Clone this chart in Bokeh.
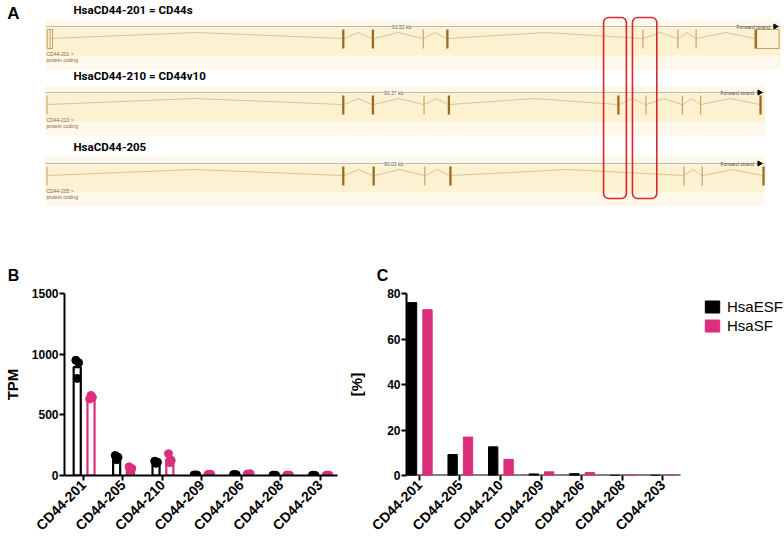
import math
from bokeh.plotting import figure
from bokeh.layouts import column, row
from bokeh.models import (Range1d, FixedTicker, Label, Legend, LegendItem,
                          BoxAnnotation)
from bokeh.embed import file_html
from bokeh.resources import INLINE
from bokeh.core.properties import value

# ---------------- Panel A data (read from the genome-browser view) ----------------
track_titles = ["HsaCD44-201 = CD44s", "HsaCD44-210 = CD44v10", "HsaCD44-205"]
track_ids = ["CD44-201", "CD44-210", "CD44-205"]
track_len_label = ["93.53 kb", "90.37 kb", "90.03 kb"]
track_view_end = [96.6, 94.5, 94.5]          # kb, right end of each view

# exon start (kb from transcript start) and exon length (kb)
t201_start = [0.4, 38.9, 42.8, 49.5, 52.6, 78.4, 83.0, 85.4, 93.2]
t201_len = [0.13, 0.3, 0.3, 0.15, 0.3, 0.15, 0.15, 0.15, 0.3]
t210_start = [0.0, 38.9, 42.8, 49.6, 52.8, 75.1, 78.8, 83.6, 86.0, 93.8]
t210_len = [0.13, 0.3, 0.3, 0.15, 0.3, 0.3, 0.15, 0.15, 0.15, 0.3]
t205_start = [0.0, 38.9, 42.9, 49.7, 53.0, 83.8, 86.2, 94.2]
t205_len = [0.13, 0.3, 0.3, 0.15, 0.3, 0.15, 0.15, 0.3]
t201_utr_start = [0.1, 93.2]
t201_utr_end = [0.8, 96.4]
highlight_start = [73.3, 77.1]
highlight_end = [76.3, 80.3]

# ---------------- Panel B / C data ----------------
isoforms = ["CD44-201", "CD44-205", "CD44-210", "CD44-209", "CD44-206", "CD44-208", "CD44-203"]
tpm_esf = [[950, 930, 800], [165, 150, 130], [118, 110, 100], [5, 4, 3], [8, 7, 6], [3, 2, 2], [2, 1, 1]]
tpm_sf = [[630, 645, 660], [72, 58, 44], [180, 125, 106], [8, 10, 9], [12, 15, 10], [3, 3, 2], [2, 3, 2]]
pct_esf = [76.0, 9.2, 12.6, 0.7, 0.8, 0.1, 0.1]
pct_sf = [72.9, 16.9, 7.1, 1.6, 1.3, 0.1, 0.1]

PINK = "#db2f7b"
FONT = "Liberation Sans"

# ======================= Panel A (also carries the B / C panel letters) =======================
W = 784
HA = 285
PXKB = 7.6
X0 = 46
pA = figure(width=W, height=HA, x_range=Range1d(-X0 / PXKB, (W - X0) / PXKB),
            y_range=Range1d(HA, 0), min_border=0, output_backend="svg",
            toolbar_location=None, x_axis_location=None, y_axis_location=None)
pA.grid.visible = False
pA.outline_line_color = None

TOP = [26, 92, 163]
exon_sets = [(t201_start, t201_len), (t210_start, t210_len), (t205_start, t205_len)]
band_left = -0.13

for k in range(3):
    top = TOP[k]
    vend = track_view_end[k]
    pA.quad(left=[band_left], right=[vend], top=[top - 7], bottom=[top + 43],
            fill_color="#fdf8ea", line_color=None)
    pA.quad(left=[band_left], right=[vend], top=[top + 1], bottom=[top + 29],
            fill_color="#fcf1d1", line_color=None)
    pA.segment(x0=[band_left], y0=[top], x1=[vend], y1=[top], line_color="#b9b9b9", line_width=1)
    pA.add_layout(Label(x=(band_left + vend) / 2 - 1.5, y=top, text=track_len_label[k],
                        text_font_size="5px", text_align="center", text_baseline="middle",
                        text_color="#555555", background_fill_color="#fdf8ea"))
    pA.text(x=[vend - 1.4], y=[top], text=["Forward strand"], text_font_size="5px",
            text_align="right", text_baseline="middle", text_color="#555555")
    pA.scatter(x=[vend - 0.7], y=[top], marker="triangle", angle=-math.pi / 2,
               size=5, color="black")
    starts, lens = exon_sets[k]
    # intron connectors
    xs, ys = [], []
    for i in range(len(starts) - 1):
        a = starts[i] + lens[i]
        b = starts[i + 1]
        xs.append([a, (a + b) / 2, b])
        ys.append([top + 12, top + 6, top + 12])
    pA.multi_line(xs=xs, ys=ys, line_color="#dcc590", line_width=1)
    # exons
    colors = ["#9a6a22" if L >= 0.25 else "#c4a064" for L in lens]
    pA.quad(left=starts, right=[s + L for s, L in zip(starts, lens)],
            top=[top + 3] * len(starts), bottom=[top + 22] * len(starts),
            fill_color=colors, line_color=None)
    pA.text(x=[0.0, 0.0], y=[top + 27, top + 33],
            text=[track_ids[k] + " >", "protein coding"], text_font_size="5px",
            text_baseline="middle", text_color="#8a6a3a")
    pA.text(x=[(73 - X0) / PXKB], y=[top - 17], text=[track_titles[k]],
            text_font=value("Roboto"),
            text_font_style="bold", text_font_size="11.5px", text_baseline="middle")

# UTR outline boxes of 201
pA.quad(left=t201_utr_start, right=t201_utr_end, top=[TOP[0] + 3] * 2,
        bottom=[TOP[0] + 22] * 2, fill_color=None, line_color="#c4a064", line_width=1)

for s, e in zip(highlight_start, highlight_end):
    pA.add_layout(BoxAnnotation(left=s, right=e, top=17, bottom=198, fill_alpha=0,
                                line_color="#d8262c", line_alpha=1.0, line_width=1.6,
                                border_radius=5))

pA.text(x=[(13 - X0) / PXKB], y=[13], text=["A"], text_font=value(FONT), text_font_style="bold",
        text_font_size="17px", text_baseline="middle", text_align="center")
pA.text(x=[(13 - X0) / PXKB, (382 - X0) / PXKB], y=[275, 275],
        text=["B", "C"], text_font=value(FONT), text_font_style="bold",
        text_font_size="16px", text_baseline="middle", text_align="center")


# ======================= Panel B / C helpers =======================
def style_axes(p):
    p.grid.visible = False
    p.outline_line_color = None
    for ax in (p.xaxis[0], p.yaxis[0]):
        ax.axis_line_width = 2
        ax.major_tick_line_width = 2
        ax.major_tick_in = 0
        ax.major_tick_out = 5
        ax.minor_tick_line_color = None
        ax.major_label_text_font = FONT
        ax.major_label_text_font_style = "bold"
        ax.major_label_text_color = "black"
        ax.axis_label_text_font = FONT
        ax.axis_label_text_font_style = "bold"
        ax.axis_label_text_font_size = "15px"
        ax.axis_label_text_color = "black"
    p.yaxis.major_label_text_font_size = "12px"
    p.yaxis.major_label_standoff = 1
    p.xaxis.major_label_text_font_size = "14px"
    p.xaxis.major_label_standoff = 2
    p.xaxis.major_label_orientation = math.pi / 4
    p.xaxis.ticker = FixedTicker(ticks=list(range(len(isoforms))))
    p.xaxis.major_label_overrides = {i: n for i, n in enumerate(isoforms)}


HBC = 542 - HA
idx = list(range(len(isoforms)))
WB = 345

# ---------------- Panel B ----------------
pB = figure(width=WB, height=HBC, x_range=Range1d(-0.4825, 6.4425), y_range=Range1d(0, 1500),
            min_border_left=60, min_border_right=WB - 337, min_border_top=293 - HA,
            min_border_bottom=HBC - (475 - HA),
            output_backend="svg", toolbar_location=None)
style_axes(pB)
pB.yaxis.ticker = FixedTicker(ticks=[0, 500, 1000, 1500])
pB.yaxis.axis_label = "TPM"
pB.yaxis.axis_label_standoff = 8

for reps, off, col in ((tpm_esf, -0.16, "black"), (tpm_sf, 0.19, PINK)):
    means = [sum(r) / len(r) for r in reps]
    pB.vbar(x=[i + off for i in idx], top=means, width=0.18, fill_color="white",
            line_color=col, line_width=2.2)
    jit = [-0.035, 0.035, 0.0]
    px = [i + off + jit[j] for i in idx for j in range(3)]
    py = [reps[i][j] for i in idx for j in range(3)]
    pB.scatter(x=px, y=py, size=8, color=col)

# ---------------- Panel C ----------------
WC = W - WB
C_X0 = -0.317
C_X1 = 6.439           # end of the category axis
C_PX = 41.0            # pixels per category
C_BOTTOM = 481 - HA    # frame bottom inside pC
pC = figure(width=WC, height=HBC, x_range=Range1d(C_X0, C_X0 + (WC - 57) / C_PX),
            y_range=Range1d(0, 80),
            min_border_left=57, min_border_right=0, min_border_top=293 - HA,
            min_border_bottom=HBC - C_BOTTOM,
            output_backend="svg", toolbar_location=None)
style_axes(pC)
pC.xaxis.axis_line_color = None
pC.segment(x0=[C_X0], y0=[0], x1=[C_X1], y1=[0], line_color="black", line_width=2)
pC.yaxis.ticker = FixedTicker(ticks=[0, 20, 40, 60, 80])
pC.yaxis.axis_label = "[%]"
pC.yaxis.axis_label_standoff = 19

rE = pC.vbar(x=[i - 0.18 for i in idx], top=pct_esf, width=0.23, color="black")
rS = pC.vbar(x=[i + 0.2 for i in idx], top=pct_sf, width=0.23, color=PINK)
leg = Legend(items=[LegendItem(label="HsaESF", renderers=[rE]),
                    LegendItem(label="HsaSF", renderers=[rS])],
             location=(297, C_BOTTOM - (295 - HA) - 45), orientation="vertical",
             padding=0, margin=0, spacing=2, glyph_width=18, glyph_height=15,
             label_height=15, label_standoff=6,
             label_text_font_size="15px", label_text_font=FONT, label_text_color="black",
             border_line_color=None, background_fill_alpha=0)
pC.add_layout(leg)

layout = column(pA, row(pB, pC))
open("out.html", "w").write(file_html(layout, INLINE))
